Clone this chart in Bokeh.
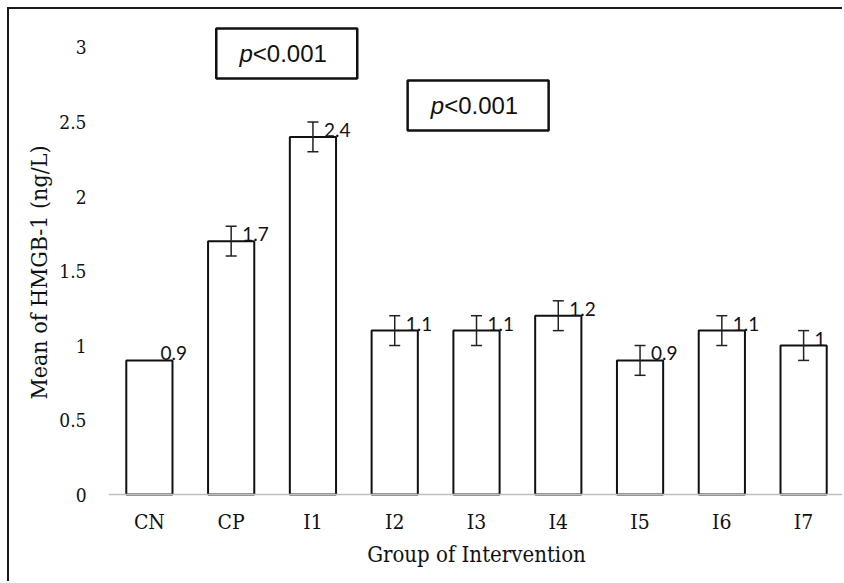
from bokeh.plotting import figure
from bokeh.models import ColumnDataSource, Range1d, FactorRange, FixedTicker, Span
from bokeh.core.properties import value
from bokeh.embed import file_html
from bokeh.resources import INLINE

categories = ["CN", "CP", "I1", "I2", "I3", "I4", "I5", "I6", "I7"]
means = [0.9, 1.7, 2.4, 1.1, 1.1, 1.2, 0.9, 1.1, 1.0]
errors = [0.0, 0.1, 0.1, 0.1, 0.1, 0.1, 0.1, 0.1, 0.1]
value_labels = ["0.9", "1.7", "2.4", "1.1", "1.1", "1.2", "0.9", "1.1", "1"]
y_ticks = [0, 0.5, 1, 1.5, 2, 2.5, 3]
p_text = "<0.001"

err_cats = [c for c, e in zip(categories, errors) if e > 0]
err_lo = [m - e for m, e in zip(means, errors) if e > 0]
err_hi = [m + e for m, e in zip(means, errors) if e > 0]

src = ColumnDataSource(dict(cat=categories, mean=means, lab=value_labels, base=[0] * len(categories)))
esrc = ColumnDataSource(dict(cat=err_cats, lo=err_lo, hi=err_hi))

SERIF = "DejaVu Serif Condensed"

p = figure(width=835, height=574, x_range=FactorRange(*categories, range_padding=0),
           y_range=Range1d(-0.275, 3.255), output_backend="svg", toolbar_location=None,
           min_border_left=99, min_border_right=0, min_border_top=0, min_border_bottom=48)
p.styles = {"margin-left": "7px", "margin-top": "7px",
            "border-left": "2px solid #1a1a1a", "border-top": "2px solid #1a1a1a"}
p.outline_line_color = None
p.xgrid.grid_line_color = None
p.ygrid.grid_line_color = None

# baseline
p.add_layout(Span(location=0, dimension="width", line_color="#bfbfbf", line_width=1.5))

p.vbar(x="cat", top="mean", bottom=0, width=0.565, source=src,
       fill_color="white", line_color="#111111", line_width=2)

# error bars
p.segment(x0="cat", y0="lo", x1="cat", y1="hi", source=esrc, line_color="#222222", line_width=1.5)
p.dash(x="cat", y="lo", source=esrc, size=11, line_color="#222222", line_width=1.5)
p.dash(x="cat", y="hi", source=esrc, size=11, line_color="#222222", line_width=1.5)

# value labels
p.text(x="cat", y="mean", text="lab", source=src, x_offset=11, y_offset=-7,
       text_align="left", text_baseline="middle", text_font=value("Lato"),
       text_font_size="19px", text_color="#111111")

# category labels
p.text(x="cat", y="base", text="cat", source=src, y_offset=27,
       text_align="center", text_baseline="middle", text_font=value(SERIF),
       text_font_size="21px", text_color="#111111")

# p-value boxes
for bx, by in [(2.18, 2.96), (4.52, 2.61)]:
    p.rect(x=[bx], y=[by], width=141, height=50, width_units="screen", height_units="screen",
           fill_color="white", line_color="#111111", line_width=2.5)
    p.text(x=[bx], y=[by], text=["p"], x_offset=-34, text_align="right", text_baseline="middle",
           text_font=value("Liberation Sans"), text_font_style="italic", text_font_size="24px",
           text_color="#111111")
    p.text(x=[bx], y=[by], text=[p_text], x_offset=-34, text_align="left", text_baseline="middle",
           text_font=value("Liberation Sans"), text_font_size="24px", text_color="#111111")

p.yaxis.ticker = FixedTicker(ticks=y_ticks)
p.yaxis.axis_line_color = None
p.yaxis.major_tick_line_color = None
p.yaxis.minor_tick_line_color = None
p.yaxis.major_label_standoff = 16
p.yaxis.major_label_text_font = SERIF
p.yaxis.major_label_text_font_size = "19px"
p.yaxis.major_label_text_color = "#111111"
p.yaxis.axis_label = "Mean of HMGB-1 (ng/L)"
p.yaxis.axis_label_text_font = SERIF
p.yaxis.axis_label_text_font_style = "normal"
p.yaxis.axis_label_text_font_size = "23px"
p.yaxis.axis_label_text_color = "#111111"
p.yaxis.axis_label_standoff = 4

p.xaxis.axis_line_color = None
p.xaxis.major_tick_line_color = None
p.xaxis.minor_tick_line_color = None
p.xaxis.major_label_standoff = 0
p.xaxis.major_label_text_font_size = "0px"
p.xaxis.major_label_text_color = None
p.xaxis.axis_label = "Group of Intervention"
p.xaxis.axis_label_text_font = SERIF
p.xaxis.axis_label_text_font_style = "normal"
p.xaxis.axis_label_text_font_size = "22px"
p.xaxis.axis_label_text_color = "#111111"
p.xaxis.axis_label_standoff = 0

open("out.html", "w").write(file_html(p, INLINE))
